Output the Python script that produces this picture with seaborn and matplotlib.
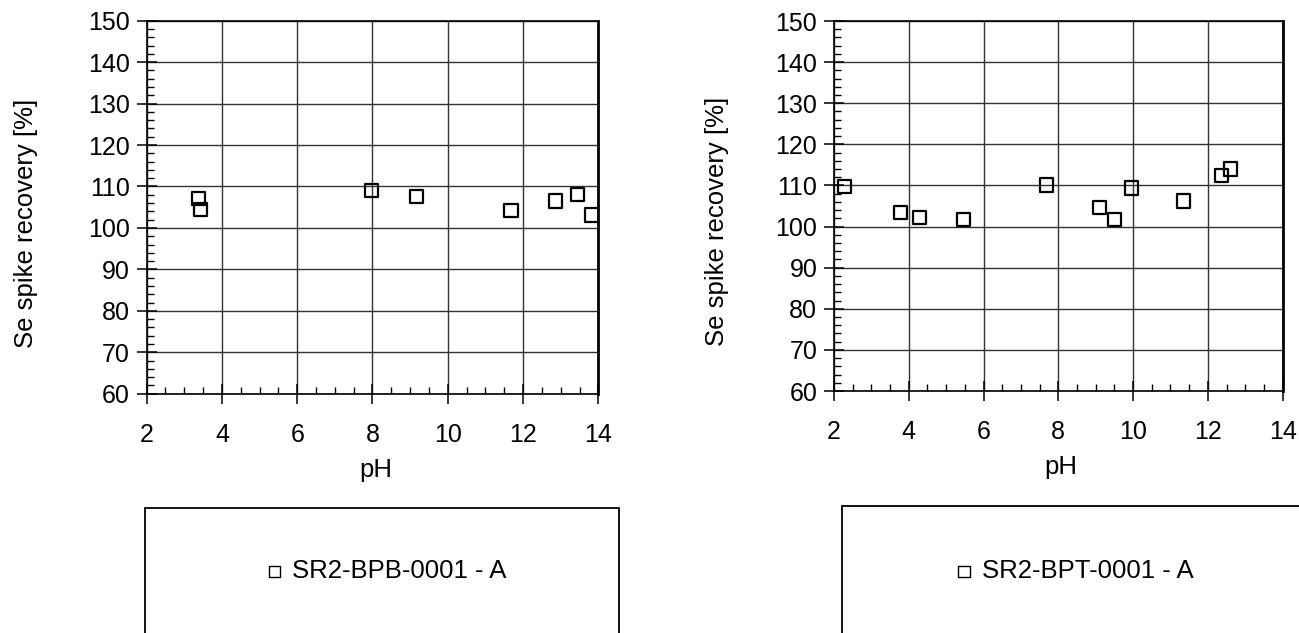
import matplotlib
matplotlib.use("Agg")
import matplotlib.pyplot as plt
import seaborn as sns
import numpy as np
from matplotlib.patches import Rectangle
from matplotlib.ticker import MultipleLocator

# ---- data ----
ph_bpb = [3.37, 3.42, 7.98, 9.16, 11.68, 12.86, 13.45, 13.83]
rec_bpb = [107.2, 104.4, 109.1, 107.5, 104.2, 106.5, 108.1, 103.1]
label_bpb = "SR2-BPB-0001 - A"

ph_bpt = [2.29, 3.77, 4.29, 5.47, 7.69, 9.11, 9.50, 9.95, 11.35, 12.36, 12.61]
rec_bpt = [109.7, 103.4, 102.3, 101.8, 110.1, 104.7, 101.8, 109.4, 106.2, 112.5, 114.0]
label_bpt = "SR2-BPT-0001 - A"

x_ticks = [2, 4, 6, 8, 10, 12, 14]
y_ticks = [60, 70, 80, 90, 100, 110, 120, 130, 140, 150]
x_label = "pH"
y_label = "Se spike recovery [%]"

sns.set_style("white")
plt.rcParams["font.family"] = ["Liberation Sans", "DejaVu Sans"]
plt.rcParams["text.color"] = "black"
plt.rcParams["axes.labelcolor"] = "black"
plt.rcParams["xtick.color"] = "black"
plt.rcParams["ytick.color"] = "black"

fig = plt.figure(figsize=(12.99, 6.33), dpi=100)
ax1 = fig.add_axes([0.1129, 0.3780, 0.3477, 0.5893])
ax2 = fig.add_axes([0.6420, 0.3823, 0.3454, 0.5845])

panels = [
    (ax1, ph_bpb, rec_bpb, label_bpb, (-0.268, 0.4576), (0.507, -0.205),
     (0.1116, 0.4765, 0.1975), 0.2956),
    (ax2, ph_bpt, rec_bpt, label_bpt, (-0.2596, 0.4576), (0.5055, -0.205),
     (0.648, 1.02, 0.2006), 0.8256),
]

for ax, xs, ys, lab, ylc, xlc, rect, lcx in panels:
    sns.scatterplot(x=xs, y=ys, ax=ax, marker="s", s=90, fc="none",
                    edgecolor="black", linewidth=1.6, label=lab, zorder=5)
    ax.set_xlim(2, 14)
    ax.set_ylim(60, 150)
    ax.set_xticks(x_ticks)
    ax.set_yticks(y_ticks)
    ax.xaxis.set_minor_locator(MultipleLocator(0.5))
    ax.yaxis.set_minor_locator(MultipleLocator(2))
    ax.grid(True, which="major", color="#333333", linewidth=1.0)
    ax.set_axisbelow(True)
    for side, sp in ax.spines.items():
        sp.set_visible(True)
        sp.set_color("black")
        sp.set_linewidth(1.2)
    ax.spines["right"].set_linewidth(2.0)
    ax.tick_params(which="major", direction="inout", length=14, width=1.1,
                   color="black", labelcolor="black", labelsize=18,
                   bottom=True, left=True)
    ax.tick_params(axis="x", which="major", pad=14)
    ax.tick_params(axis="y", which="major", pad=5)
    ax.tick_params(which="minor", direction="in", length=5, width=1.0,
                   color="black", bottom=True, left=True)
    ax.set_xlabel(x_label, fontsize=18.5, va="center", color="black")
    ax.set_ylabel(y_label, fontsize=18.5, va="center", color="black")
    ax.xaxis.set_label_coords(*xlc)
    ax.yaxis.set_label_coords(*ylc)

    x0, x1, ytop = rect
    fig.patches.append(Rectangle((x0, -0.1), x1 - x0, ytop + 0.1,
                                 transform=fig.transFigure, fill=False,
                                 edgecolor="black", linewidth=1.3))
    h, l = ax.get_legend_handles_labels()
    leg = ax.legend(h, l, loc="center", bbox_to_anchor=(lcx, 0.098),
                    bbox_transform=fig.transFigure, frameon=False,
                    fontsize=18.5, markerscale=0.85, handletextpad=0.2,
                    handlelength=1.0, scatterpoints=1, labelcolor="black")
    for hd in leg.legend_handles:
        hd.set_linewidth(1.0)

fig.savefig("out.png", dpi=100)
